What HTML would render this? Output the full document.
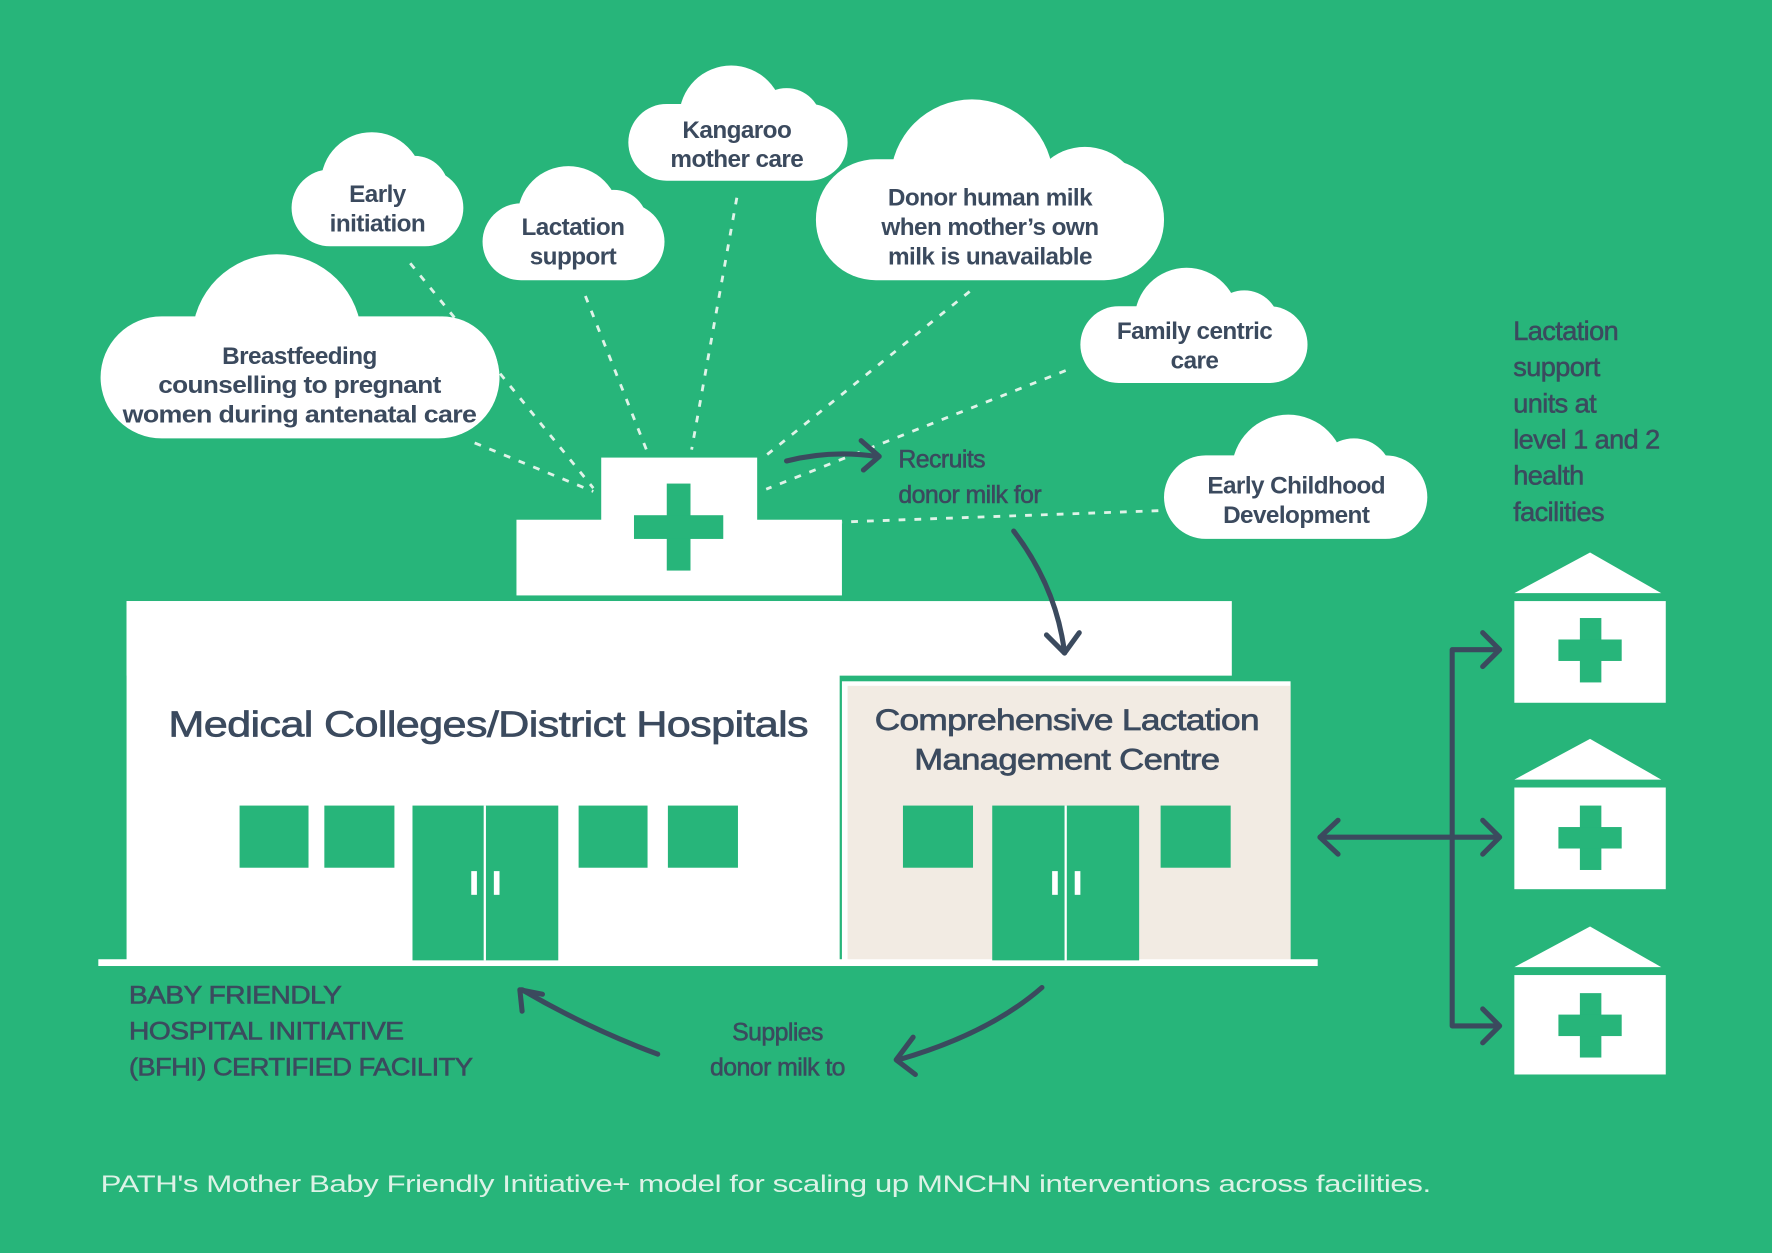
<!DOCTYPE html>
<html><head><meta charset="utf-8"><style>
html,body{margin:0;padding:0;background:#27b57a;}
svg{display:block}
text{font-family:"Liberation Sans",sans-serif;fill:#3b4a5e}
.c{font-size:21.5px;font-weight:bold;text-anchor:middle;letter-spacing:-0.5px}
.l{font-size:22px;letter-spacing:-0.5px;stroke:#3b4a5e;stroke-width:0.5px}
.m{stroke:#3b4a5e;stroke-width:0.6px}
</style></head><body>
<svg width="1772" height="1253" viewBox="0 0 1568 1109" preserveAspectRatio="none" xmlns="http://www.w3.org/2000/svg">
<rect width="1568" height="1109" fill="#27b57a"/>
<g stroke="#dff3e8" stroke-width="2.5" stroke-dasharray="6 8" fill="none">
<line x1="363" y1="233" x2="525" y2="432"/>
<line x1="518" y1="262" x2="572" y2="398"/>
<line x1="652" y1="175" x2="612" y2="398"/>
<line x1="858" y1="258" x2="678" y2="403"/>
<line x1="943" y1="328" x2="678" y2="433"/>
<line x1="1025" y1="452" x2="745" y2="462"/>
<line x1="420" y1="392" x2="525" y2="435"/>
</g>
<g fill="#fff">
<rect x="258" y="150" width="152" height="68" rx="34"/><circle cx="329" cy="162" r="45"/><circle cx="367" cy="168" r="30"/><circle cx="296" cy="178" r="25"/>
<rect x="427" y="180" width="161" height="68" rx="34"/><circle cx="503" cy="192" r="45"/><circle cx="543" cy="198" r="30"/><circle cx="467" cy="208" r="25"/>
<rect x="556" y="92" width="194" height="68" rx="34"/><circle cx="647" cy="104" r="46"/><circle cx="696" cy="109" r="31"/><circle cx="604" cy="119" r="26"/>
<rect x="722" y="141" width="308" height="107" rx="53"/><circle cx="860" cy="160" r="72"/><circle cx="960" cy="180" r="50"/><circle cx="790" cy="190" r="45"/>
<rect x="956" y="271" width="201" height="68" rx="34"/><circle cx="1050" cy="283" r="46"/><circle cx="1101" cy="288" r="31"/><circle cx="1006" cy="298" r="26"/>
<rect x="1030" y="403" width="233" height="74" rx="37"/><circle cx="1140" cy="417" r="50"/><circle cx="1198" cy="422" r="34"/><circle cx="1088" cy="433" r="28"/>
<rect x="89" y="280" width="353" height="108" rx="54"/><circle cx="245" cy="300" r="75"/><circle cx="391" cy="330" r="50"/><circle cx="150" cy="330" r="45"/>
</g>
<g>
<text class="c" x="334" y="179">Early</text><text class="c" x="334" y="205">initiation</text>
<text class="c" x="507" y="208">Lactation</text><text class="c" x="507" y="234">support</text>
<text class="c" x="652" y="122">Kangaroo</text><text class="c" x="652" y="148">mother care</text>
<text class="c" x="876" y="182">Donor human milk</text><text class="c" x="876" y="208">when mother’s own</text><text class="c" x="876" y="234">milk is unavailable</text>
<text class="c" x="1057" y="300">Family centric</text><text class="c" x="1057" y="326">care</text>
<text class="c" x="1147" y="437">Early Childhood</text><text class="c" x="1147" y="463">Development</text>
<text class="c" x="265" y="322">Breastfeeding</text><text class="c" x="265" y="348" textLength="250" lengthAdjust="spacingAndGlyphs">counselling to pregnant</text><text class="c" x="265" y="374" textLength="313" lengthAdjust="spacingAndGlyphs">women during antenatal care</text>
</g>
<rect x="532" y="405" width="138" height="60" fill="#fff"/>
<rect x="457" y="460" width="288" height="67" fill="#fff"/>
<rect x="590" y="428" width="21" height="77" fill="#27b57a"/>
<rect x="561" y="456" width="79" height="21" fill="#27b57a"/>
<rect x="112" y="532" width="978" height="66" fill="#fff"/>
<rect x="112" y="532" width="631" height="320" fill="#fff"/>
<rect x="745" y="603" width="397" height="249" fill="#fff"/>
<rect x="750" y="607" width="392" height="245" fill="#f2ebe3"/>
<rect x="87" y="849" width="1079" height="6" fill="#fff"/>
<g fill="#27b57a">
<rect x="212" y="713" width="61" height="55"/><rect x="287" y="713" width="62" height="55"/>
<rect x="512" y="713" width="61" height="55"/><rect x="591" y="713" width="62" height="55"/>
<rect x="365" y="713" width="129" height="137"/>
<rect x="799" y="713" width="62" height="55"/><rect x="1027" y="713" width="62" height="55"/>
<rect x="878" y="713" width="130" height="137"/>
</g>
<g fill="#fff">
<rect x="428" y="713" width="2" height="137"/><rect x="417" y="771" width="5" height="21"/><rect x="437" y="771" width="5" height="21"/>
<rect x="942" y="713" width="2" height="137"/><rect x="931" y="771" width="5" height="21"/><rect x="951" y="771" width="5" height="21"/>
</g>
<text class="m" x="432" y="652" text-anchor="middle" style="font-size:32px;letter-spacing:-0.5px" textLength="566" lengthAdjust="spacingAndGlyphs">Medical Colleges/District Hospitals</text>
<text class="m" x="944" y="646" text-anchor="middle" style="font-size:26px;letter-spacing:-0.5px" textLength="340" lengthAdjust="spacingAndGlyphs">Comprehensive Lactation</text>
<text class="m" x="944" y="681" text-anchor="middle" style="font-size:26px;letter-spacing:-0.5px" textLength="270" lengthAdjust="spacingAndGlyphs">Management Centre</text>
<g stroke="#3b4a5e" stroke-width="4.5" fill="none" stroke-linecap="round" stroke-linejoin="round">
<path d="M696 408 Q735 398 776 404"/><path d="M762 390 L778 404 L764 416"/>
<path d="M897 470 Q935 520 942 578"/><path d="M926 562 L942 578 L955 560"/>
<path d="M1168 741 H1326"/><path d="M1184 726 L1168 741 L1184 756"/><path d="M1312 726 L1327 741 L1312 756"/>
<path d="M1326 575 H1285 V908 H1326"/><path d="M1312 560 L1327 575 L1312 590"/><path d="M1312 893 L1327 908 L1312 923"/>
<path d="M922 874 Q875 915 795 938"/><path d="M808 918 L793 938 L810 951"/>
<path d="M582 933 Q520 910 462 876"/><path d="M462 895 L460 876 L480 880"/>
</g>
<text class="l" x="795" y="414">Recruits</text>
<text class="l" x="795" y="445">donor milk for</text>
<text class="l" x="688" y="921" text-anchor="middle">Supplies</text>
<text class="l" x="688" y="952" text-anchor="middle">donor milk to</text>
<text class="l" x="114" y="888" textLength="188" lengthAdjust="spacingAndGlyphs">BABY FRIENDLY</text>
<text class="l" x="114" y="920" textLength="243" lengthAdjust="spacingAndGlyphs">HOSPITAL INITIATIVE</text>
<text class="l" x="114" y="952" textLength="304" lengthAdjust="spacingAndGlyphs">(BFHI) CERTIFIED FACILITY</text>
<text class="l" style="font-size:24px" x="1339" y="301">Lactation</text>
<text class="l" style="font-size:24px" x="1339" y="333">support</text>
<text class="l" style="font-size:24px" x="1339" y="365">units at</text>
<text class="l" style="font-size:24px" x="1339" y="397">level 1 and 2</text>
<text class="l" style="font-size:24px" x="1339" y="429">health</text>
<text class="l" style="font-size:24px" x="1339" y="461">facilities</text>
<g fill="#fff">
<polygon points="1407,489 1340,525 1470,525"/><rect x="1340" y="532" width="134" height="90"/>
<polygon points="1407,654 1340,690 1470,690"/><rect x="1340" y="697" width="134" height="90"/>
<polygon points="1407,820 1340,856 1470,856"/><rect x="1340" y="863" width="134" height="88"/>
</g>
<g fill="#27b57a">
<rect x="1398" y="547" width="19" height="57"/><rect x="1379" y="566" width="56" height="19"/>
<rect x="1398" y="713" width="19" height="57"/><rect x="1379" y="732" width="56" height="19"/>
<rect x="1398" y="879" width="19" height="57"/><rect x="1379" y="898" width="56" height="19"/>
</g>
<text x="89" y="1055" style="font-size:21px;fill:#dcf2e6;letter-spacing:-0.3px" textLength="1177" lengthAdjust="spacingAndGlyphs">PATH's Mother Baby Friendly Initiative+ model for scaling up MNCHN interventions across facilities.</text>
</svg>
</body></html>
